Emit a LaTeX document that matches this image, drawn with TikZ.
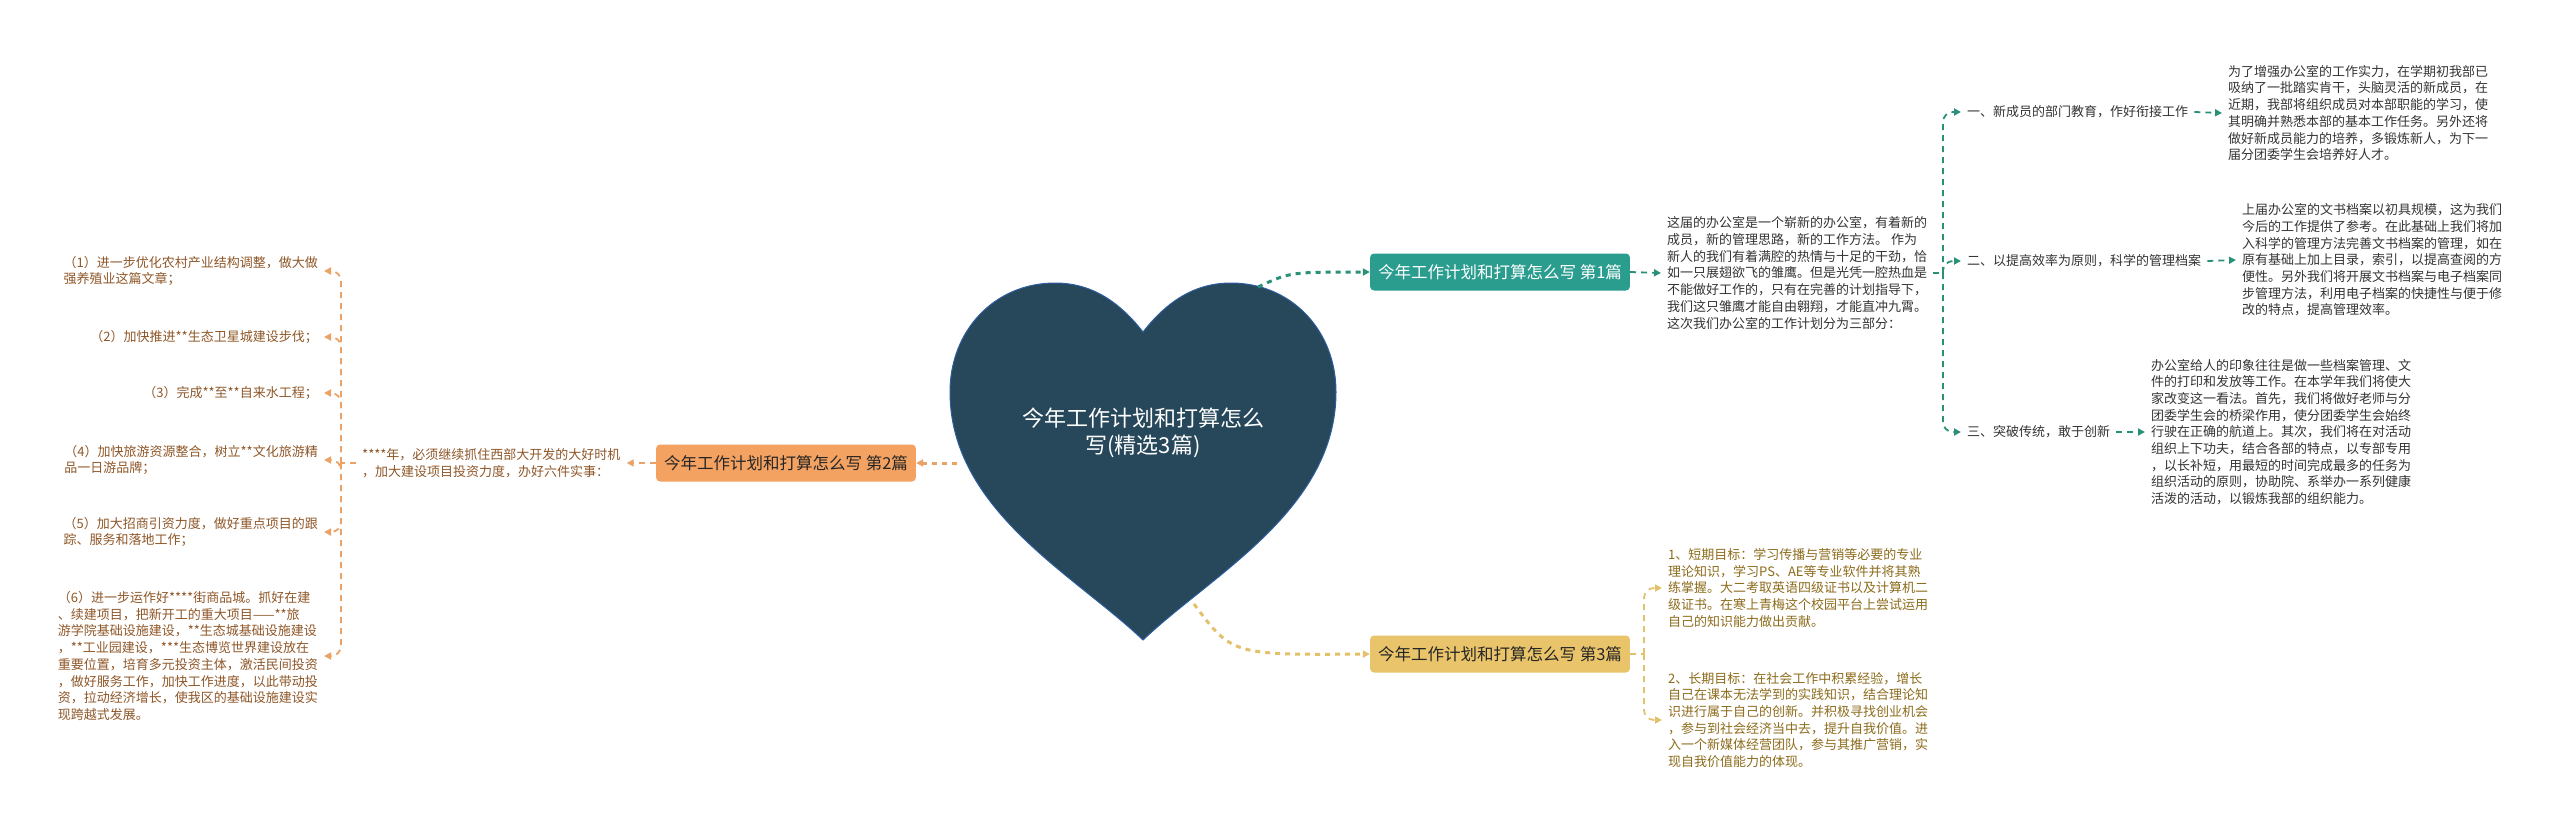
\documentclass[tikz,border=0pt]{standalone}
\usepackage{fontspec}
\setmainfont{Noto Sans CJK SC}
\usetikzlibrary{arrows.meta}
\definecolor{heartfill}{HTML}{27475A}
\definecolor{heartline}{HTML}{2E5E9E}
\definecolor{tealbox}{HTML}{2A9D8F}
\definecolor{teallink}{HTML}{2A9078}
\definecolor{orangebox}{HTML}{F4A261}
\definecolor{orangelink}{HTML}{EBA266}
\definecolor{goldbox}{HTML}{E9C46A}
\definecolor{goldlink}{HTML}{E3C06A}
\definecolor{leafgreen}{HTML}{333333}
\definecolor{leaforange}{HTML}{8E5627}
\definecolor{leafgold}{HTML}{8C6B1B}

\begin{document}
\begin{tikzpicture}[x=1pt, y=-1pt, >={Triangle[length=7pt,width=7pt]}]
\tikzstyle{topic} = [rectangle, rounded corners=4pt, minimum height=37pt, inner xsep=8pt, font=\fontsize{16.5}{20}\selectfont]
\tikzstyle{leaf} = [align=left, inner xsep=6pt, inner ysep=0pt, font=\fontsize{13}{16.7}\selectfont]
\tikzstyle{link} = [->, line width=3pt, dash pattern=on 5pt off 5pt]
\tikzstyle{twig} = [->, line width=1.8pt, dash pattern=on 6pt off 5pt, rounded corners=10pt]
\useasboundingbox (0,0) rectangle (2560,831);
%% central heart
\path[fill=heartfill, draw=heartline, line width=1pt] (1143,332) .. controls (1118,300) and (1090,283) .. (1055,283) .. controls (995,283) and (950,330) .. (950,392) .. controls (950,510) and (1075,575) .. (1143,640) .. controls (1211,575) and (1336,510) .. (1336,392) .. controls (1336,330) and (1291,283) .. (1231,283) .. controls (1196,283) and (1168,300) .. (1143,332) -- cycle;
\node[align=center, text=white, font=\fontsize{22}{27}\selectfont] at (1143,433) (H){今年工作计划和打算怎么\\写(精选3篇)};
\coordinate (H1) at (1258,287);
\coordinate (H2) at (957,463);
\coordinate (H3) at (1194,604);
%% topics
\node[topic, fill=tealbox, text=white] at (1500,272) (B1){今年工作计划和打算怎么写 第1篇};
\node[topic, fill=orangebox, text=black!85] at (786,463) (B2){今年工作计划和打算怎么写 第2篇};
\node[topic, fill=goldbox, text=black!85] at (1500,654) (B3){今年工作计划和打算怎么写 第3篇};
%% first article
\node[leaf, text=leafgreen, anchor=west] at (1661,273) (T1){这届的办公室是一个崭新的办公室，有着新的\\成员，新的管理思路，新的工作方法。 作为\\新人的我们有着满腔的热情与十足的干劲，恰\\如一只展翅欲飞的雏鹰。但是光凭一腔热血是\\不能做好工作的，只有在完善的计划指导下，\\我们这只雏鹰才能自由翱翔，才能直冲九霄。\\这次我们办公室的工作计划分为三部分：};
\coordinate (J1) at (1943,273);
\node[leaf, text=leafgreen, anchor=west] at (1961,112) (C1){一、新成员的部门教育，作好衔接工作};
\node[leaf, text=leafgreen, anchor=west] at (1961,261) (C2){二、以提高效率为原则，科学的管理档案};
\node[leaf, text=leafgreen, anchor=west] at (1961,432) (C3){三、突破传统，敢于创新};
\node[leaf, text=leafgreen, anchor=west] at (2222,113) (D1){为了增强办公室的工作实力，在学期初我部已\\吸纳了一批踏实肯干，头脑灵活的新成员，在\\近期，我部将组织成员对本部职能的学习，使\\其明确并熟悉本部的基本工作任务。另外还将\\做好新成员能力的培养，多锻炼新人，为下一\\届分团委学生会培养好人才。};
\node[leaf, text=leafgreen, anchor=west] at (2236,260) (D2){上届办公室的文书档案以初具规模，这为我们\\今后的工作提供了参考。在此基础上我们将加\\入科学的管理方法完善文书档案的管理，如在\\原有基础上加上目录，索引，以提高查阅的方\\便性。另外我们将开展文书档案与电子档案同\\步管理方法，利用电子档案的快捷性与便于修\\改的特点，提高管理效率。};
\node[leaf, text=leafgreen, anchor=west] at (2145,432) (D3){办公室给人的印象往往是做一些档案管理、文\\件的打印和发放等工作。在本学年我们将使大\\家改变这一看法。首先，我们将做好老师与分\\团委学生会的桥梁作用，使分团委学生会始终\\行驶在正确的航道上。其次，我们将在对活动\\组织上下功夫，结合各部的特点，以专部专用\\，以长补短，用最短的时间完成最多的任务为\\组织活动的原则，协助院、系举办一系列健康\\活泼的活动，以锻炼我部的组织能力。};
%% second article
\node[leaf, text=leaforange, anchor=west] at (356,463) (L0){****年，必须继续抓住西部大开发的大好时机\\，加大建设项目投资力度，办好六件实事：};
\coordinate (J2) at (341,463);
\node[leaf, text=leaforange, anchor=east] at (324,271) (E1){（1）进一步优化农村产业结构调整，做大做\\强养殖业这篇文章；};
\node[leaf, text=leaforange, anchor=east] at (324,337) (E2){（2）加快推进**生态卫星城建设步伐；};
\node[leaf, text=leaforange, anchor=east] at (324,393) (E3){（3）完成**至**自来水工程；};
\node[leaf, text=leaforange, anchor=east] at (324,460) (E4){（4）加快旅游资源整合，树立**文化旅游精\\品一日游品牌；};
\node[leaf, text=leaforange, anchor=east] at (324,532) (E5){（5）加大招商引资力度，做好重点项目的跟\\踪、服务和落地工作；};
\node[leaf, text=leaforange, anchor=east] at (324,656) (E6){（6）进一步运作好****街商品城。抓好在建\\、续建项目，把新开工的重大项目——**旅\\游学院基础设施建设，**生态城基础设施建设\\，**工业园建设，***生态博览世界建设放在\\重要位置，培育多元投资主体，激活民间投资\\，做好服务工作，加快工作进度，以此带动投\\资，拉动经济增长，使我区的基础设施建设实\\现跨越式发展。};
%% third article
\coordinate (J3) at (1644,654);
\node[leaf, text=leafgold, anchor=west] at (1662,588) (Y1){1、短期目标：学习传播与营销等必要的专业\\理论知识，学习PS、AE等专业软件并将其熟\\练掌握。大二考取英语四级证书以及计算机二\\级证书。在寒上青梅这个校园平台上尝试运用\\自己的知识能力做出贡献。};
\node[leaf, text=leafgold, anchor=west] at (1662,720) (Y2){2、长期目标：在社会工作中积累经验，增长\\自己在课本无法学到的实践知识，结合理论知\\识进行属于自己的创新。并积极寻找创业机会\\，参与到社会经济当中去，提升自我价值。进\\入一个新媒体经营团队，参与其推广营销，实\\现自我价值能力的体现。};
%% arrows
\draw[link, teallink] (H1) .. controls (1290,272) .. (B1.west);
\draw[link, orangelink] (H2) -- (B2.east);
\draw[link, goldlink] (H3) .. controls (1232,655) .. (B3.west);
\draw[twig, teallink] (B1.east) -- (T1.west);
\draw[twig, teallink, -] (T1.east) -- (J1);
\foreach \c in {C1,C2,C3} \draw[twig, teallink] (J1) |- (\c.west);
\draw[twig, teallink] (C1.east) -- (D1.west);
\draw[twig, teallink] (C2.east) -- (D2.west);
\draw[twig, teallink] (C3.east) -- (D3.west);
\draw[twig, orangelink] (B2.west) -- (L0.east);
\draw[twig, orangelink, -] (L0.west) -- (J2);
\foreach \e in {E1,E2,E3,E4,E5,E6} \draw[twig, orangelink] (J2) |- (\e.east);
\draw[twig, goldlink, -] (B3.east) -- (J3);
\draw[twig, goldlink] (J3) |- (Y1.west);
\draw[twig, goldlink] (J3) |- (Y2.west);
\end{tikzpicture}
\end{document}
